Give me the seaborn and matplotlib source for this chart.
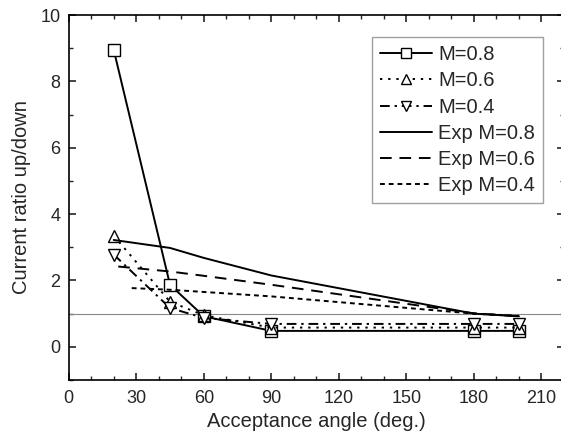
import matplotlib

matplotlib.use("Agg")

import matplotlib.pyplot as plt
import seaborn as sns
from matplotlib.ticker import MultipleLocator

# simulated ratios (markers)
angles_sim = [20, 45, 60, 90, 180, 200]
m08_sim = [8.95, 1.87, 0.92, 0.48, 0.48, 0.48]
m06_sim = [3.35, 1.36, 0.95, 0.58, 0.58, 0.58]
m04_sim = [2.78, 1.17, 0.87, 0.69, 0.69, 0.69]

# experimental curves
exp08_x = [20, 45, 60, 90, 180, 200]
exp08_y = [3.22, 2.98, 2.68, 2.15, 1.0, 0.92]
exp06_x = [22, 45, 60, 90, 180, 200]
exp06_y = [2.42, 2.27, 2.14, 1.87, 1.01, 0.92]
exp04_x = [28, 45, 90, 180, 200]
exp04_y = [1.77, 1.72, 1.52, 1.0, 0.93]

STYLE = {
    "figure.facecolor": "white",
    "axes.facecolor": "white",
    "axes.edgecolor": "black",
    "axes.linewidth": 1.2,
    "xtick.direction": "in",
    "ytick.direction": "in",
    "xtick.top": True,
    "ytick.right": True,
    "xtick.major.size": 5,
    "ytick.major.size": 5,
    "xtick.minor.size": 3,
    "ytick.minor.size": 3,
    "xtick.major.width": 1.2,
    "ytick.major.width": 1.2,
    "xtick.minor.width": 1.0,
    "ytick.minor.width": 1.0,
    "font.size": 13,
}

sns.set_theme(style="ticks", rc=STYLE)
plt.rcParams["font.family"] = ["Liberation Sans", "DejaVu Sans"]

fig = plt.figure(figsize=(5.61, 4.45), dpi=100)
ax = fig.add_axes([68.7 / 561, 1 - 380 / 445, (564 - 68.7) / 561, (380 - 15) / 445])

ax.axhline(1, color="#888888", lw=0.8, zorder=1)

mk = dict(markerfacecolor="white", markeredgecolor="black", markersize=8.5, markeredgewidth=1.0)
sns.lineplot(x=angles_sim, y=m08_sim, ax=ax, color="black", lw=1.4, linestyle="-", marker="s", label="M=0.8", sort=False, **mk)
sns.lineplot(x=angles_sim, y=m06_sim, ax=ax, color="black", lw=1.4, linestyle=(0, (1.2, 3)), marker="^", label="M=0.6", sort=False, **mk)
sns.lineplot(x=angles_sim, y=m04_sim, ax=ax, color="black", lw=1.4, linestyle=(0, (5, 2.5, 1.2, 2.5)), marker="v", label="M=0.4", sort=False, **mk)
sns.lineplot(x=exp08_x, y=exp08_y, ax=ax, color="black", lw=1.4, linestyle="-", label="Exp M=0.8", sort=False)
sns.lineplot(x=exp06_x, y=exp06_y, ax=ax, color="black", lw=1.4, linestyle=(0, (6, 4)), label="Exp M=0.6", sort=False)
sns.lineplot(x=exp04_x, y=exp04_y, ax=ax, color="black", lw=1.4, linestyle=(0, (2.5, 2)), label="Exp M=0.4", sort=False)

ax.set_xlim(0, 220)
ax.set_ylim(-1, 10)
ax.xaxis.set_major_locator(MultipleLocator(30))
ax.xaxis.set_minor_locator(MultipleLocator(10))
ax.yaxis.set_major_locator(MultipleLocator(2))
ax.yaxis.set_minor_locator(MultipleLocator(1))
ax.tick_params(axis="both", which="both", direction="in", top=True, right=True, labelsize=13)
ax.tick_params(axis="x", which="major", pad=7)
ax.tick_params(axis="y", which="major", pad=6)
ax.set_xlabel("Acceptance angle (deg.)", fontsize=14.5, labelpad=4)
ax.set_ylabel("Current ratio up/down", fontsize=14.5, labelpad=7)

leg = ax.legend(
    loc="upper left",
    bbox_to_anchor=((372 - 68.7) / (564 - 68.7), 1 - (37 - 15) / 365),
    fontsize=14.5,
    frameon=True,
    fancybox=False,
    edgecolor="#888888",
    handlelength=2.6,
    handletextpad=0.3,
    labelspacing=0.36,
    borderpad=0.4,
    borderaxespad=0,
    markerscale=0.8,
)
leg.get_frame().set_linewidth(1.0)

fig.savefig("out.png", dpi=100)
